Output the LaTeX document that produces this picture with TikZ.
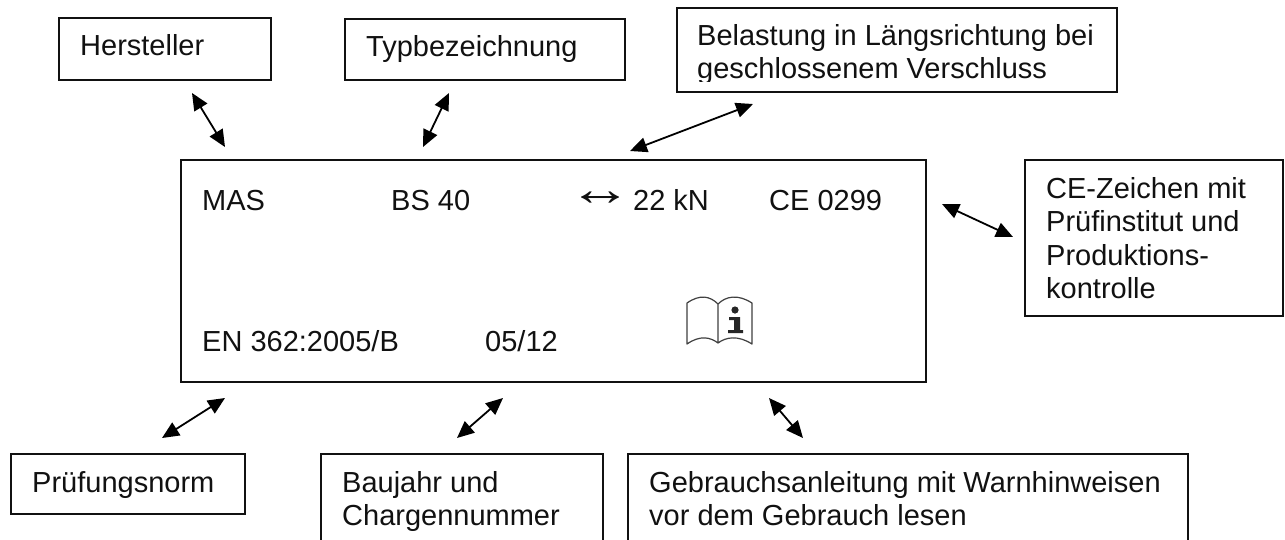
\documentclass[tikz,border=0pt]{standalone}
\usepackage{fontspec}
\setmainfont{Liberation Sans}
\usetikzlibrary{arrows.meta}
\definecolor{ink}{HTML}{111111}
\tikzset{
  box/.style={draw=ink,line width=1.6pt,fill=white,inner sep=0pt,minimum width=#1},
  txt/.style={anchor=base west,inner sep=0pt,text=ink,font=\fontsize{29}{33.5}\selectfont},
  link/.style={draw=black,line width=1.8pt,{Triangle[length=17pt,width=15pt]}-{Triangle[length=17pt,width=15pt]}},
  icon/.style={draw=black!75,line width=1.2pt,line join=round}
}
\newcommand{\stk}[1]{\begin{tabular}[t]{@{}l@{}}#1\end{tabular}}
\begin{document}
\begin{tikzpicture}[x=1pt,y=-1pt]
\useasboundingbox (0,0) rectangle (1285,539);
\clip (0,0) rectangle (1285,539);
% boxes
\node[box=212pt,minimum height=62pt] (bHersteller) at (165,49) {};
\node[box=280pt,minimum height=61pt] (bTyp) at (485,49.5) {};
\node[box=440pt,minimum height=84pt] (bBelastung) at (897,50) {};
\node[box=745pt,minimum height=222pt] (bMain) at (553.5,271) {};
\node[box=258pt,minimum height=156pt] (bCE) at (1154,238) {};
\node[box=234pt,minimum height=60pt] (bNorm) at (128,484) {};
\node[box=282pt,minimum height=120pt] (bBaujahr) at (462,514) {};
\node[box=560pt,minimum height=120pt] (bAnleitung) at (908,514) {};
% box texts
\node[txt] (tHersteller) at (80,55) {Hersteller};
\node[txt] (tTyp) at (366,56) {Typbezeichnung};
\begin{scope}
\clip (677,8) rectangle (1117,81);
\node[txt] (tBelastung) at (697,45) {\stk{Belastung in Längsrichtung bei\\geschlossenem Verschluss}};
\end{scope}
\node[txt] (tCE) at (1046,198) {\stk{CE-Zeichen mit\\Prüfinstitut und\\Produktions-\\kontrolle}};
\node[txt] (tNorm) at (32,492) {Prüfungsnorm};
\node[txt] (tBaujahr) at (342,492) {\stk{Baujahr und\\Chargennummer}};
\node[txt] (tAnleitung) at (649,492) {\stk{Gebrauchsanleitung mit Warnhinweisen\\vor dem Gebrauch lesen}};
% plate texts
\node[txt] (pMAS) at (202,210) {MAS};
\node[txt] (pBS) at (391,210) {BS 40};
\node[txt,anchor=center,font=\fontsize{40}{40}\selectfont] (pArrow) at (600,199) {\scalebox{1.6}[1.2]{↔}};
\node[txt] (pKN) at (633,210) {22 kN};
\node[txt] (pCE) at (769,210) {CE 0299};
\node[txt] (pEN) at (202,351) {EN 362:2005/B};
\node[txt] (pDate) at (485,351) {05/12};
% book icon
\draw[icon] (718,304) .. controls (710,296) and (700,294) .. (687,303) -- (687,344)
  .. controls (700,335) and (710,337) .. (718,343)
  .. controls (726,337) and (738,335) .. (752,344) -- (752,303)
  .. controls (738,294) and (726,296) .. (718,304) -- (718,343);
\fill[black!85] (735,310) circle (3.6pt);
\fill[black!85] (729,317) -- (740,317) -- (740,330) -- (743,330) -- (743,333) -- (728,333) -- (728,330) -- (734,330) -- (734,320) -- (729,320) -- cycle;
% connector ends
\coordinate (a1) at (192,93);  \coordinate (a2) at (225,147);
\coordinate (b1) at (449,93);  \coordinate (b2) at (423,147);
\coordinate (c1) at (753,104); \coordinate (c2) at (630,151);
\coordinate (d1) at (942,204); \coordinate (d2) at (1013,237);
\coordinate (e1) at (225,398); \coordinate (e2) at (162,438);
\coordinate (f1) at (503,398); \coordinate (f2) at (457,438);
\coordinate (g1) at (769,398); \coordinate (g2) at (803,438);
\draw[link] (a1) -- (a2);
\draw[link] (b1) -- (b2);
\draw[link] (c1) -- (c2);
\draw[link] (d1) -- (d2);
\draw[link] (e1) -- (e2);
\draw[link] (f1) -- (f2);
\draw[link] (g1) -- (g2);
\end{tikzpicture}
\end{document}
